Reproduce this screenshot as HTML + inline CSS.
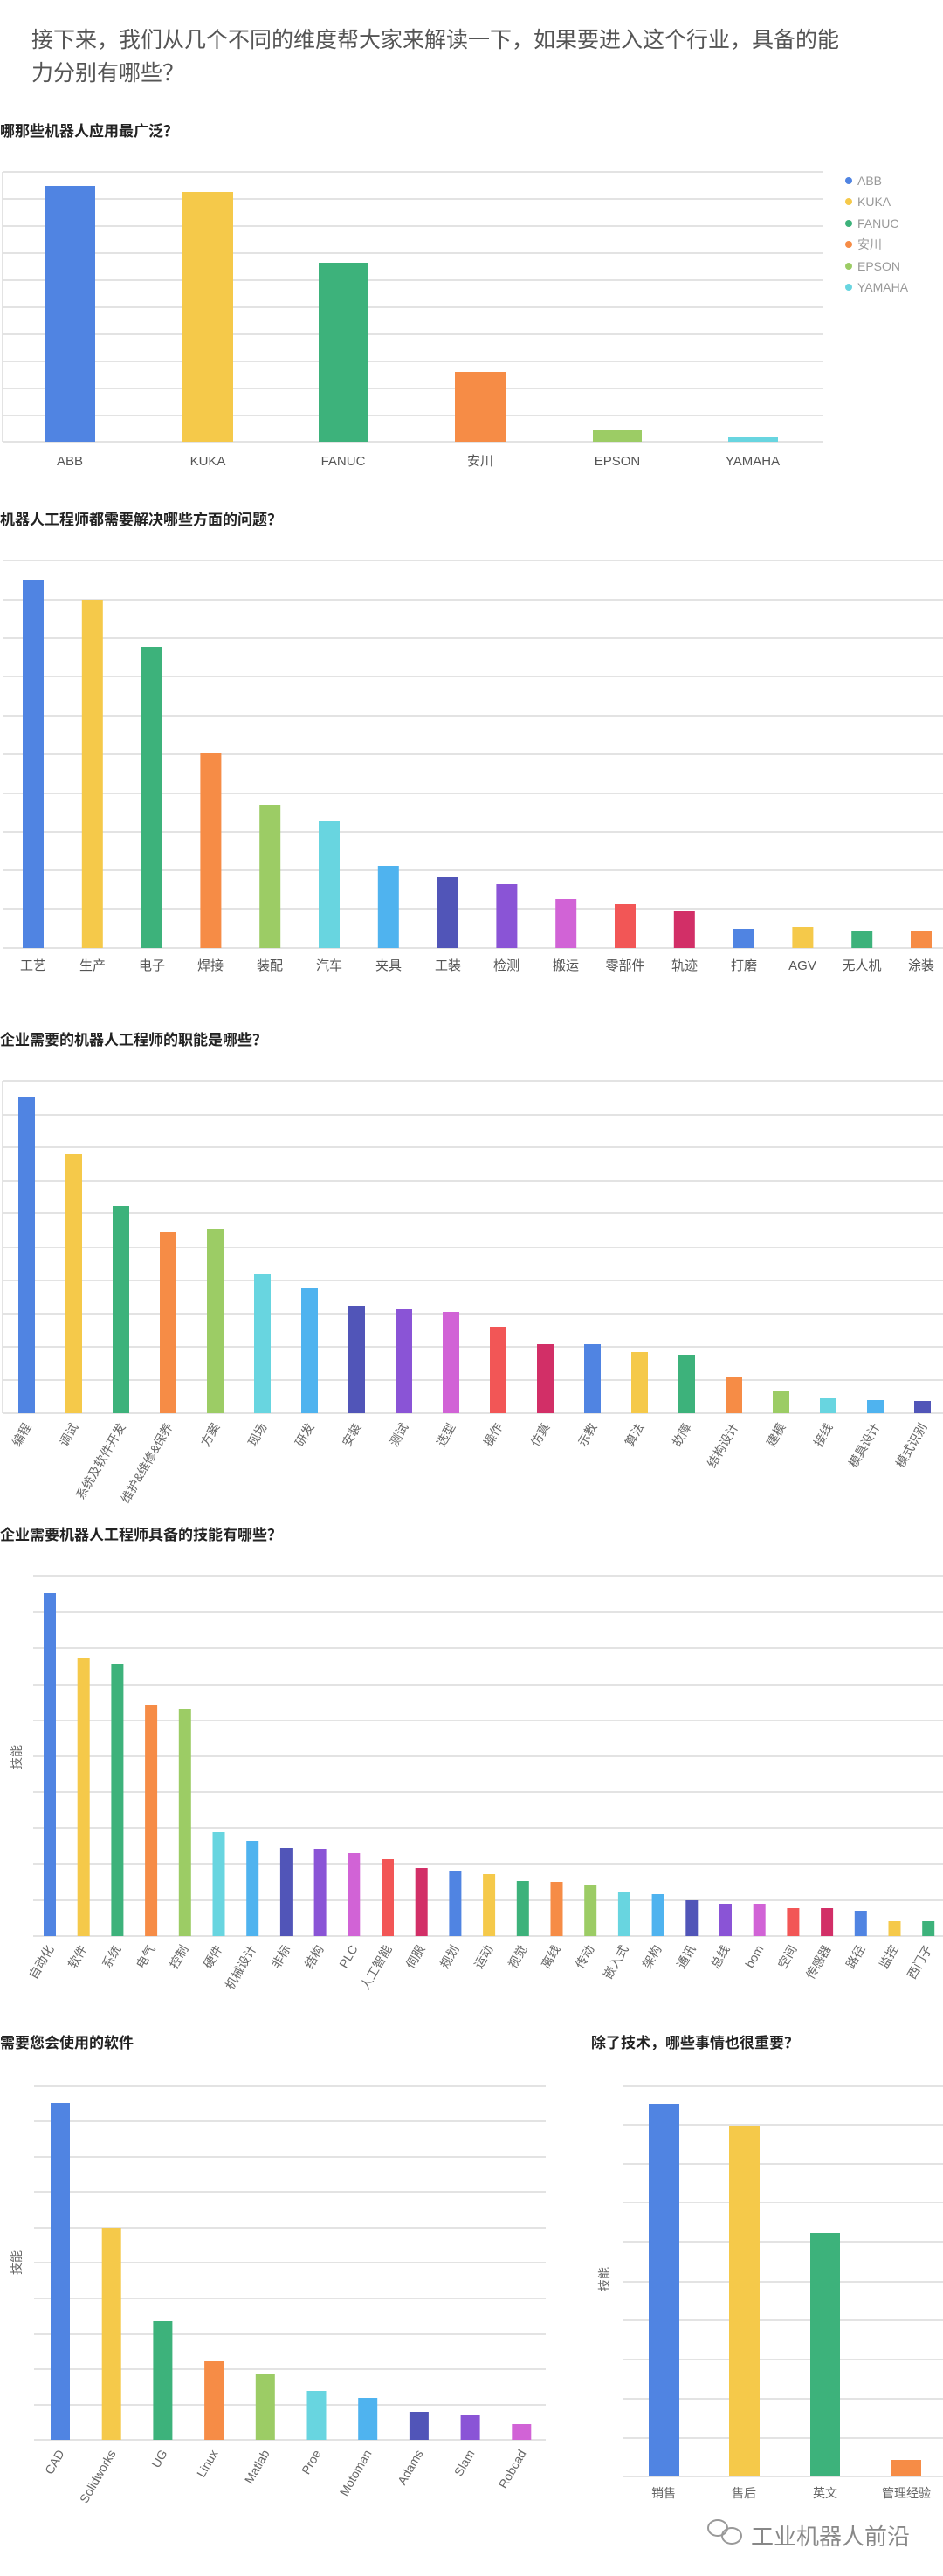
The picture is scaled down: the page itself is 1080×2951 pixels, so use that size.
<!DOCTYPE html>
<html><head><meta charset="utf-8"><style>
html,body{margin:0;padding:0;background:#fff;}
svg{display:block;font-family:"Liberation Sans","Noto Sans CJK SC",sans-serif;}
.g{stroke:#e3e3e3;stroke-width:2;}
.t{font-size:17px;font-weight:bold;fill:#222;}
.l{font-size:15px;fill:#555;}
.r{font-size:14px;fill:#666;}
</style></head><body>
<svg width="1080" height="2951" viewBox="0 0 1080 2951" xmlns="http://www.w3.org/2000/svg">
<text x="36" y="54" font-size="25" fill="#555">接下来，我们从几个不同的维度帮大家来解读一下，如果要进入这个行业，具备的能</text>
<text x="36" y="92" font-size="25" fill="#555">力分别有哪些？</text>

<!-- Chart 1 -->
<text x="0" y="156" class="t">哪那些机器人应用最广泛？</text>
<g class="g">
<line x1="3" x2="942" y1="197" y2="197"/><line x1="3" x2="942" y1="228" y2="228"/><line x1="3" x2="942" y1="259" y2="259"/><line x1="3" x2="942" y1="290" y2="290"/><line x1="3" x2="942" y1="321" y2="321"/><line x1="3" x2="942" y1="352" y2="352"/><line x1="3" x2="942" y1="383" y2="383"/><line x1="3" x2="942" y1="414" y2="414"/><line x1="3" x2="942" y1="445" y2="445"/><line x1="3" x2="942" y1="476" y2="476"/><line x1="3" x2="942" y1="506" y2="506"/>
<line x1="3" x2="3" y1="197" y2="506"/>
</g>
<rect x="52" y="213" width="57" height="293" fill="#5084e2"/>
<rect x="209" y="220" width="58" height="286" fill="#f5c94a"/>
<rect x="365" y="301" width="57" height="205" fill="#3db27b"/>
<rect x="521" y="426" width="58" height="80" fill="#f68c46"/>
<rect x="679" y="493" width="56" height="13" fill="#9ccc65"/>
<rect x="834" y="501" width="57" height="5" fill="#68d5e0"/>
<g class="l" text-anchor="middle">
<text x="80" y="533">ABB</text><text x="238" y="533">KUKA</text><text x="393" y="533">FANUC</text><text x="550" y="533">安川</text><text x="707" y="533">EPSON</text><text x="862" y="533">YAMAHA</text>
</g>
<g font-size="14" fill="#999">
<circle cx="972" cy="207" r="4" fill="#5084e2"/><text x="982" y="212">ABB</text>
<circle cx="972" cy="231" r="4" fill="#f5c94a"/><text x="982" y="236">KUKA</text>
<circle cx="972" cy="256" r="4" fill="#3db27b"/><text x="982" y="261">FANUC</text>
<circle cx="972" cy="280" r="4" fill="#f68c46"/><text x="982" y="285">安川</text>
<circle cx="972" cy="305" r="4" fill="#9ccc65"/><text x="982" y="310">EPSON</text>
<circle cx="972" cy="329" r="4" fill="#68d5e0"/><text x="982" y="334">YAMAHA</text>
</g>

<!-- Chart 2 -->
<text x="0" y="601" class="t">机器人工程师都需要解决哪些方面的问题？</text>
<g class="g">
<line x1="4" x2="1080" y1="642" y2="642"/><line x1="4" x2="1080" y1="687" y2="687"/><line x1="4" x2="1080" y1="731" y2="731"/><line x1="4" x2="1080" y1="775" y2="775"/><line x1="4" x2="1080" y1="820" y2="820"/><line x1="4" x2="1080" y1="864" y2="864"/><line x1="4" x2="1080" y1="909" y2="909"/><line x1="4" x2="1080" y1="953" y2="953"/><line x1="4" x2="1080" y1="997" y2="997"/><line x1="4" x2="1080" y1="1041" y2="1041"/><line x1="4" x2="1080" y1="1086" y2="1086"/>
</g>
<rect x="26" y="664" width="24" height="422" fill="#5084e2"/>
<rect x="93.8" y="687" width="24" height="399" fill="#f5c94a"/>
<rect x="161.6" y="741" width="24" height="345" fill="#3db27b"/>
<rect x="229.4" y="863" width="24" height="223" fill="#f68c46"/>
<rect x="297.2" y="922" width="24" height="164" fill="#9ccc65"/>
<rect x="365" y="941" width="24" height="145" fill="#68d5e0"/>
<rect x="432.8" y="992" width="24" height="94" fill="#4fb3ef"/>
<rect x="500.6" y="1005" width="24" height="81" fill="#5155b8"/>
<rect x="568.4" y="1013" width="24" height="73" fill="#8a54d6"/>
<rect x="636.2" y="1030" width="24" height="56" fill="#d163d6"/>
<rect x="704" y="1036" width="24" height="50" fill="#f25656"/>
<rect x="771.8" y="1044" width="24" height="42" fill="#d22f67"/>
<rect x="839.6" y="1064" width="24" height="22" fill="#5084e2"/>
<rect x="907.4" y="1062" width="24" height="24" fill="#f5c94a"/>
<rect x="975.2" y="1067" width="24" height="19" fill="#3db27b"/>
<rect x="1043" y="1067" width="24" height="19" fill="#f68c46"/>
<g class="l" text-anchor="middle">
<text x="38" y="1111">工艺</text><text x="106" y="1111">生产</text><text x="174" y="1111">电子</text><text x="241" y="1111">焊接</text><text x="309" y="1111">装配</text><text x="377" y="1111">汽车</text><text x="445" y="1111">夹具</text><text x="513" y="1111">工装</text><text x="580" y="1111">检测</text><text x="648" y="1111">搬运</text><text x="716" y="1111">零部件</text><text x="784" y="1111">轨迹</text><text x="852" y="1111">打磨</text><text x="919" y="1111">AGV</text><text x="987" y="1111">无人机</text><text x="1055" y="1111">涂装</text>
</g>

<!-- Chart 3 -->
<text x="0" y="1197" class="t">企业需要的机器人工程师的职能是哪些？</text>
<g class="g">
<line x1="3" x2="1080" y1="1238" y2="1238"/><line x1="3" x2="1080" y1="1277" y2="1277"/><line x1="3" x2="1080" y1="1314" y2="1314"/><line x1="3" x2="1080" y1="1353" y2="1353"/><line x1="3" x2="1080" y1="1390" y2="1390"/><line x1="3" x2="1080" y1="1429" y2="1429"/><line x1="3" x2="1080" y1="1467" y2="1467"/><line x1="3" x2="1080" y1="1505" y2="1505"/><line x1="3" x2="1080" y1="1543" y2="1543"/><line x1="3" x2="1080" y1="1581" y2="1581"/><line x1="3" x2="1080" y1="1619" y2="1619"/>
<line x1="3" x2="3" y1="1238" y2="1619"/>
</g>
<rect x="21" y="1257" width="19" height="362" fill="#5084e2"/>
<rect x="75" y="1322" width="19" height="297" fill="#f5c94a"/>
<rect x="129" y="1382" width="19" height="237" fill="#3db27b"/>
<rect x="183" y="1411" width="19" height="208" fill="#f68c46"/>
<rect x="237" y="1408" width="19" height="211" fill="#9ccc65"/>
<rect x="291" y="1460" width="19" height="159" fill="#68d5e0"/>
<rect x="345" y="1476" width="19" height="143" fill="#4fb3ef"/>
<rect x="399" y="1496" width="19" height="123" fill="#5155b8"/>
<rect x="453" y="1500" width="19" height="119" fill="#8a54d6"/>
<rect x="507" y="1503" width="19" height="116" fill="#d163d6"/>
<rect x="561" y="1520" width="19" height="99" fill="#f25656"/>
<rect x="615" y="1540" width="19" height="79" fill="#d22f67"/>
<rect x="669" y="1540" width="19" height="79" fill="#5084e2"/>
<rect x="723" y="1549" width="19" height="70" fill="#f5c94a"/>
<rect x="777" y="1552" width="19" height="67" fill="#3db27b"/>
<rect x="831" y="1578" width="19" height="41" fill="#f68c46"/>
<rect x="885" y="1593" width="19" height="26" fill="#9ccc65"/>
<rect x="939" y="1602" width="19" height="17" fill="#68d5e0"/>
<rect x="993" y="1604" width="19" height="15" fill="#4fb3ef"/>
<rect x="1047" y="1605" width="19" height="14" fill="#5155b8"/>
<g class="r" text-anchor="end">
<text transform="translate(36,1634) rotate(-60)">编程</text>
<text transform="translate(90,1634) rotate(-60)">调试</text>
<text transform="translate(144,1634) rotate(-60)">系统及软件开发</text>
<text transform="translate(198,1634) rotate(-60)">维护&amp;维修&amp;保养</text>
<text transform="translate(252,1634) rotate(-60)">方案</text>
<text transform="translate(306,1634) rotate(-60)">现场</text>
<text transform="translate(360,1634) rotate(-60)">研发</text>
<text transform="translate(414,1634) rotate(-60)">安装</text>
<text transform="translate(468,1634) rotate(-60)">测试</text>
<text transform="translate(522,1634) rotate(-60)">选型</text>
<text transform="translate(576,1634) rotate(-60)">操作</text>
<text transform="translate(630,1634) rotate(-60)">仿真</text>
<text transform="translate(684,1634) rotate(-60)">示教</text>
<text transform="translate(738,1634) rotate(-60)">算法</text>
<text transform="translate(792,1634) rotate(-60)">故障</text>
<text transform="translate(846,1634) rotate(-60)">结构设计</text>
<text transform="translate(900,1634) rotate(-60)">建模</text>
<text transform="translate(954,1634) rotate(-60)">接线</text>
<text transform="translate(1008,1634) rotate(-60)">模具设计</text>
<text transform="translate(1062,1634) rotate(-60)">模式识别</text>
</g>

<!-- Chart 4 -->
<text x="0" y="1764" class="t">企业需要机器人工程师具备的技能有哪些？</text>
<g class="g">
<line x1="38" x2="1080" y1="1805" y2="1805"/><line x1="38" x2="1080" y1="1847" y2="1847"/><line x1="38" x2="1080" y1="1888" y2="1888"/><line x1="38" x2="1080" y1="1930" y2="1930"/><line x1="38" x2="1080" y1="1971" y2="1971"/><line x1="38" x2="1080" y1="2012" y2="2012"/><line x1="38" x2="1080" y1="2053" y2="2053"/><line x1="38" x2="1080" y1="2094" y2="2094"/><line x1="38" x2="1080" y1="2135" y2="2135"/><line x1="38" x2="1080" y1="2177" y2="2177"/><line x1="38" x2="1080" y1="2218" y2="2218"/>
</g>
<text transform="translate(24,2013) rotate(-90)" text-anchor="middle" class="r">技能</text>
<rect x="50" y="1825" width="14" height="393" fill="#5084e2"/>
<rect x="88.7" y="1899" width="14" height="319" fill="#f5c94a"/>
<rect x="127.4" y="1906" width="14" height="312" fill="#3db27b"/>
<rect x="166.1" y="1953" width="14" height="265" fill="#f68c46"/>
<rect x="204.8" y="1958" width="14" height="260" fill="#9ccc65"/>
<rect x="243.5" y="2099" width="14" height="119" fill="#68d5e0"/>
<rect x="282.2" y="2109" width="14" height="109" fill="#4fb3ef"/>
<rect x="320.9" y="2117" width="14" height="101" fill="#5155b8"/>
<rect x="359.6" y="2118" width="14" height="100" fill="#8a54d6"/>
<rect x="398.3" y="2123" width="14" height="95" fill="#d163d6"/>
<rect x="437" y="2130" width="14" height="88" fill="#f25656"/>
<rect x="475.7" y="2140" width="14" height="78" fill="#d22f67"/>
<rect x="514.4" y="2143" width="14" height="75" fill="#5084e2"/>
<rect x="553.1" y="2147" width="14" height="71" fill="#f5c94a"/>
<rect x="591.8" y="2155" width="14" height="63" fill="#3db27b"/>
<rect x="630.5" y="2156" width="14" height="62" fill="#f68c46"/>
<rect x="669.2" y="2159" width="14" height="59" fill="#9ccc65"/>
<rect x="707.9" y="2167" width="14" height="51" fill="#68d5e0"/>
<rect x="746.6" y="2170" width="14" height="48" fill="#4fb3ef"/>
<rect x="785.3" y="2177" width="14" height="41" fill="#5155b8"/>
<rect x="824" y="2181" width="14" height="37" fill="#8a54d6"/>
<rect x="862.7" y="2181" width="14" height="37" fill="#d163d6"/>
<rect x="901.4" y="2186" width="14" height="32" fill="#f25656"/>
<rect x="940.1" y="2186" width="14" height="32" fill="#d22f67"/>
<rect x="978.8" y="2189" width="14" height="29" fill="#5084e2"/>
<rect x="1017.5" y="2201" width="14" height="17" fill="#f5c94a"/>
<rect x="1056.2" y="2201" width="14" height="17" fill="#3db27b"/>
<g class="r" text-anchor="end">
<text transform="translate(62,2232) rotate(-60)">自动化</text>
<text transform="translate(100,2232) rotate(-60)">软件</text>
<text transform="translate(139,2232) rotate(-60)">系统</text>
<text transform="translate(178,2232) rotate(-60)">电气</text>
<text transform="translate(216,2232) rotate(-60)">控制</text>
<text transform="translate(255,2232) rotate(-60)">硬件</text>
<text transform="translate(294,2232) rotate(-60)">机械设计</text>
<text transform="translate(333,2232) rotate(-60)">非标</text>
<text transform="translate(371,2232) rotate(-60)">结构</text>
<text transform="translate(410,2232) rotate(-60)">PLC</text>
<text transform="translate(449,2232) rotate(-60)">人工智能</text>
<text transform="translate(487,2232) rotate(-60)">伺服</text>
<text transform="translate(526,2232) rotate(-60)">规划</text>
<text transform="translate(565,2232) rotate(-60)">运动</text>
<text transform="translate(604,2232) rotate(-60)">视觉</text>
<text transform="translate(642,2232) rotate(-60)">离线</text>
<text transform="translate(681,2232) rotate(-60)">传动</text>
<text transform="translate(720,2232) rotate(-60)">嵌入式</text>
<text transform="translate(758,2232) rotate(-60)">架构</text>
<text transform="translate(797,2232) rotate(-60)">通讯</text>
<text transform="translate(836,2232) rotate(-60)">总线</text>
<text transform="translate(875,2232) rotate(-60)">bom</text>
<text transform="translate(913,2232) rotate(-60)">空间</text>
<text transform="translate(952,2232) rotate(-60)">传感器</text>
<text transform="translate(991,2232) rotate(-60)">路径</text>
<text transform="translate(1029,2232) rotate(-60)">监控</text>
<text transform="translate(1068,2232) rotate(-60)">西门子</text>
</g>

<!-- Chart 5 left -->
<text x="0" y="2346" class="t">需要您会使用的软件</text>
<g class="g">
<line x1="39" x2="625" y1="2390" y2="2390"/><line x1="39" x2="625" y1="2430" y2="2430"/><line x1="39" x2="625" y1="2471" y2="2471"/><line x1="39" x2="625" y1="2511" y2="2511"/><line x1="39" x2="625" y1="2552" y2="2552"/><line x1="39" x2="625" y1="2592" y2="2592"/><line x1="39" x2="625" y1="2633" y2="2633"/><line x1="39" x2="625" y1="2674" y2="2674"/><line x1="39" x2="625" y1="2714" y2="2714"/><line x1="39" x2="625" y1="2755" y2="2755"/><line x1="39" x2="625" y1="2795" y2="2795"/>
</g>
<text transform="translate(24,2592) rotate(-90)" text-anchor="middle" class="r">技能</text>
<rect x="58" y="2409" width="22" height="386" fill="#5084e2"/>
<rect x="116.7" y="2552" width="22" height="243" fill="#f5c94a"/>
<rect x="175.4" y="2659" width="22" height="136" fill="#3db27b"/>
<rect x="234.1" y="2705" width="22" height="90" fill="#f68c46"/>
<rect x="292.8" y="2720" width="22" height="75" fill="#9ccc65"/>
<rect x="351.5" y="2739" width="22" height="56" fill="#68d5e0"/>
<rect x="410.2" y="2747" width="22" height="48" fill="#4fb3ef"/>
<rect x="468.9" y="2763" width="22" height="32" fill="#5155b8"/>
<rect x="527.6" y="2766" width="22" height="29" fill="#8a54d6"/>
<rect x="586.3" y="2777" width="22" height="18" fill="#d163d6"/>
<g class="r" text-anchor="end">
<text transform="translate(74,2810) rotate(-60)">CAD</text>
<text transform="translate(133,2810) rotate(-60)">Solidworks</text>
<text transform="translate(192,2810) rotate(-60)">UG</text>
<text transform="translate(250,2810) rotate(-60)">Linux</text>
<text transform="translate(309,2810) rotate(-60)">Matlab</text>
<text transform="translate(368,2810) rotate(-60)">Proe</text>
<text transform="translate(426,2810) rotate(-60)">Motoman</text>
<text transform="translate(485,2810) rotate(-60)">Adams</text>
<text transform="translate(544,2810) rotate(-60)">Slam</text>
<text transform="translate(603,2810) rotate(-60)">Robcad</text>
</g>

<!-- Chart 5 right -->
<text x="677" y="2346" class="t">除了技术，哪些事情也很重要？</text>
<g class="g">
<line x1="713" x2="1080" y1="2390" y2="2390"/><line x1="713" x2="1080" y1="2434" y2="2434"/><line x1="713" x2="1080" y1="2479" y2="2479"/><line x1="713" x2="1080" y1="2523" y2="2523"/><line x1="713" x2="1080" y1="2568" y2="2568"/><line x1="713" x2="1080" y1="2614" y2="2614"/><line x1="713" x2="1080" y1="2658" y2="2658"/><line x1="713" x2="1080" y1="2703" y2="2703"/><line x1="713" x2="1080" y1="2748" y2="2748"/><line x1="713" x2="1080" y1="2793" y2="2793"/><line x1="713" x2="1080" y1="2837" y2="2837"/>
</g>
<text transform="translate(697,2611) rotate(-90)" text-anchor="middle" class="r">技能</text>
<rect x="743" y="2410" width="35" height="427" fill="#5084e2"/>
<rect x="835" y="2436" width="35" height="401" fill="#f5c94a"/>
<rect x="928" y="2558" width="34" height="279" fill="#3db27b"/>
<rect x="1021" y="2818" width="34" height="19" fill="#f68c46"/>
<g class="r" text-anchor="middle">
<text x="760" y="2861">销售</text><text x="852" y="2861">售后</text><text x="945" y="2861">英文</text><text x="1038" y="2861">管理经验</text>
</g>

<!-- watermark -->
<g fill="none" stroke="#999" stroke-width="2">
<ellipse cx="822" cy="2896" rx="11" ry="9"/>
<ellipse cx="838" cy="2905" rx="11" ry="9"/>
</g>
<text x="860" y="2915" font-size="26" fill="#888">工业机器人前沿</text>
</svg>
</body></html>
